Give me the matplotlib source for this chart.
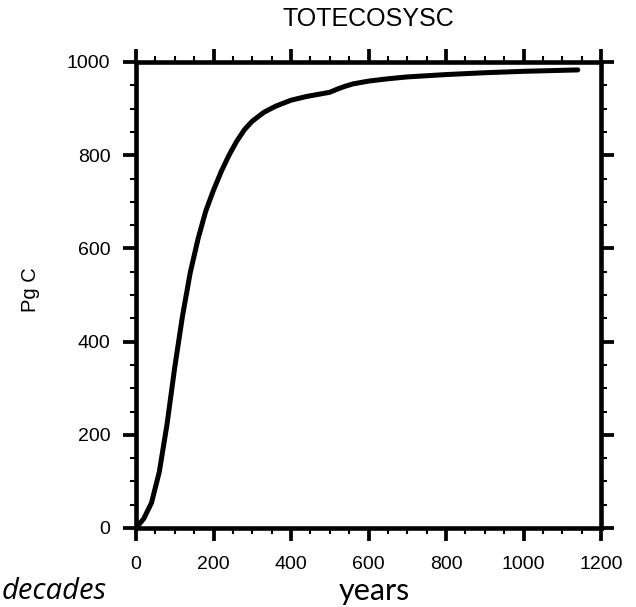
import matplotlib
matplotlib.use("Agg")
from matplotlib import pyplot as plt
from matplotlib.ticker import MultipleLocator

# values
years = [0, 20, 40, 60, 80, 100, 120, 140, 160, 180, 200, 220, 240, 260, 280, 300,
         330, 360, 400, 440, 480, 500, 520, 540, 560, 600, 650, 700, 800, 900, 1000, 1140]
totecosysc = [0, 20, 54, 120, 222, 345, 455, 548, 620, 680, 725, 765, 800, 830, 855, 873,
              892, 905, 918, 926, 932, 935, 942, 948, 953, 959, 964, 968, 973, 977, 980, 983]

x_ticks = [0, 200, 400, 600, 800, 1000, 1200]
y_ticks = [0, 200, 400, 600, 800, 1000]


def main():
    plt.rcParams['font.family'] = ['Liberation Sans', 'DejaVu Sans']
    fig = plt.figure(figsize=(6.36, 6.07), dpi=100)
    ax = fig.add_axes([136 / 636, 1 - 528 / 607, 465 / 636, 466 / 607])

    ax.plot(years, totecosysc, color='black', linewidth=3.6,
            solid_capstyle='round', solid_joinstyle='round')

    ax.set_xlim(0, 1200)
    ax.set_ylim(0, 1000)
    ax.set_xticks(x_ticks)
    ax.set_yticks(y_ticks)
    ax.xaxis.set_minor_locator(MultipleLocator(50))
    ax.yaxis.set_minor_locator(MultipleLocator(50))

    for s in ax.spines.values():
        s.set_linewidth(3.3)
    ax.tick_params(which='major', direction='out', length=9.5, width=2.7,
                   top=True, right=True, labelsize=14)
    ax.tick_params(which='minor', direction='out', length=4, width=1.5,
                   top=True, right=True)
    ax.tick_params(axis='x', which='major', pad=11)
    ax.tick_params(axis='y', which='major', pad=9)

    fig.text(368.5 / 636, 1 - 19 / 607, 'TOTECOSYSC', fontsize=18,
             ha='center', va='center')
    fig.text(30.5 / 636, 1 - 290 / 607, 'Pg C', fontsize=14.5, rotation=90,
             ha='center', va='center')
    fig.text(374 / 636, 1 - 600 / 607, 'years', fontsize=22, family='Lato',
             ha='center', va='baseline')
    fig.text(2 / 636, 1 / 607, 'decades', fontsize=21, family='Open Sans',
             style='italic', ha='left', va='bottom')

    fig.savefig('out.png', dpi=100)


if __name__ == '__main__':
    main()
